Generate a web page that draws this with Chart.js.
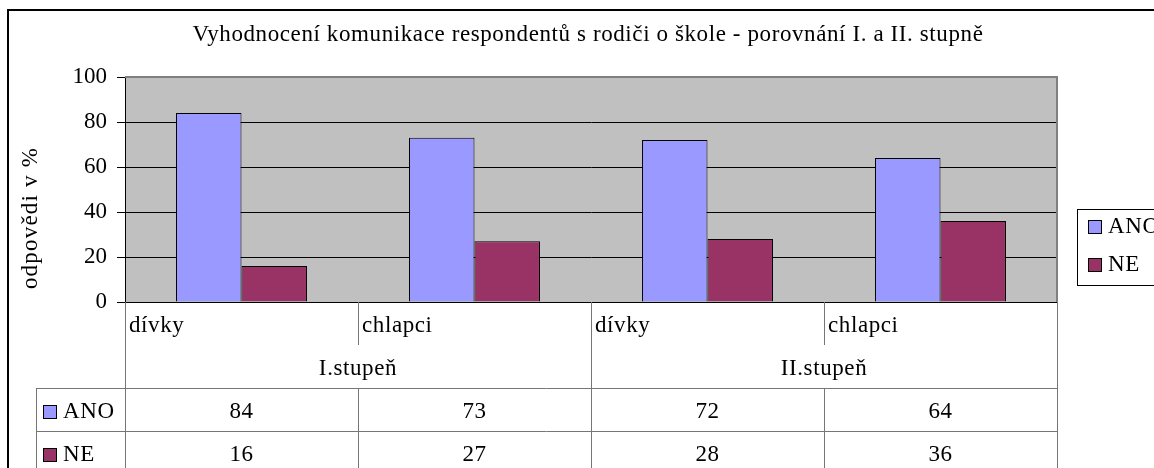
<!DOCTYPE html>
<html>
<head>
<meta charset="utf-8">
<script src="https://cdn.jsdelivr.net/npm/chart.js@4"></script>
<style>
  html, body { margin: 0; padding: 0; background: #fff; }
  #wrap { width: 1154px; height: 468px; position: relative; }
</style>
</head>
<body>
<div id="wrap"><canvas id="chart"></canvas></div>
<script>
const categories = ["dívky", "chlapci", "dívky", "chlapci"];
const groups = ["I.stupeň", "II.stupeň"];
const seriesNames = ["ANO", "NE"];
const anoValues = [84, 73, 72, 64];
const neValues = [16, 27, 28, 36];
const yTicks = [0, 20, 40, 60, 80, 100];
const titleText = "Vyhodnocení komunikace respondentů s rodiči o škole - porovnání I. a II. stupně";
const yTitle = "odpovědi v %";

const seriesColors = ["#9999FF", "#993366"];
const serif = "Liberation Serif";
const lineGray = "#767676";

// everything Excel draws outside the plot: title, category rows, data table, legend
const extras = {
  id: "extras",
  beforeDraw(chart) {
    const { ctx, chartArea: a } = chart;
    ctx.save();
    ctx.fillStyle = "#C0C0C0";
    ctx.fillRect(a.left, a.top, a.right - a.left, a.bottom - a.top);
    ctx.restore();
  },
  afterDraw(chart) {
    const { ctx, chartArea: a } = chart;
    const w = (a.right - a.left) / categories.length;
    const values = [anoValues, neValues];
    const rowTop = [388, 431];
    const rowH = 43;
    ctx.save();

    // plot border
    ctx.strokeStyle = "#808080";
    ctx.lineWidth = 2;
    ctx.beginPath();
    ctx.moveTo(a.left, a.top);
    ctx.lineTo(a.right, a.top);
    ctx.lineTo(a.right, a.bottom);
    ctx.stroke();

    // title
    ctx.fillStyle = "#000";
    ctx.font = "23px '" + serif + "'";
    ctx.letterSpacing = "0.6px";
    ctx.textAlign = "center";
    ctx.textBaseline = "alphabetic";
    ctx.fillText(titleText, (a.left + a.right) / 2 - 3, 41);

    // y axis title
    ctx.save();
    ctx.letterSpacing = "1.2px";
    ctx.translate(37, 218);
    ctx.rotate(-Math.PI / 2);
    ctx.fillText(yTitle, 0, 0);
    ctx.restore();

    // category labels + dividers
    ctx.strokeStyle = lineGray;
    ctx.lineWidth = 1;
    ctx.textAlign = "left";
    categories.forEach((c, i) => {
      const left = a.left + i * w;
      ctx.fillText(c, left + 4, 332);
      const x = Math.round(left) + 0.5;
      ctx.beginPath();
      ctx.moveTo(x, a.bottom);
      ctx.lineTo(x, i % 2 === 0 ? 470 : 345);
      ctx.stroke();
    });
    ctx.beginPath();
    ctx.moveTo(Math.round(a.right) + 0.5, a.bottom);
    ctx.lineTo(Math.round(a.right) + 0.5, 470);
    ctx.stroke();

    ctx.textAlign = "center";
    groups.forEach((g, j) => {
      ctx.fillText(g, a.left + (2 * j + 1) * w, 375);
    });

    // data table
    rowTop.forEach((y, r) => {
      ctx.strokeStyle = lineGray;
      ctx.beginPath();
      ctx.moveTo(36, y + 0.5);
      ctx.lineTo(a.right, y + 0.5);
      ctx.stroke();
      categories.forEach((c, i) => {
        const x = Math.round(a.left + i * w) + 0.5;
        ctx.beginPath();
        ctx.moveTo(x, y);
        ctx.lineTo(x, y + rowH);
        ctx.stroke();
        ctx.fillStyle = "#000";
        ctx.textAlign = "center";
        ctx.fillText(String(values[r][i]), a.left + (i + 0.5) * w, y + 30);
      });
      ctx.fillStyle = seriesColors[r];
      ctx.fillRect(43, y + 17, 13, 13);
      ctx.strokeStyle = "#000";
      ctx.strokeRect(43.5, y + 17.5, 13, 13);
      ctx.fillStyle = "#000";
      ctx.textAlign = "left";
      ctx.fillText(seriesNames[r], 63, y + 30);
    });
    ctx.strokeStyle = lineGray;
    ctx.beginPath();
    ctx.moveTo(36.5, rowTop[0]);
    ctx.lineTo(36.5, 470);
    ctx.stroke();

    // legend
    ctx.strokeStyle = "#000";
    ctx.strokeRect(1077.5, 209.5, 100, 76);
    seriesNames.forEach((s, r) => {
      const base = r === 0 ? 233 : 271;
      ctx.fillStyle = seriesColors[r];
      ctx.fillRect(1088, base - 13, 13, 13);
      ctx.strokeStyle = "#000";
      ctx.strokeRect(1088.5, base - 12.5, 13, 13);
      ctx.fillStyle = "#000";
      ctx.textAlign = "left";
      ctx.fillText(s, 1108, base);
    });

    // outer frame
    ctx.lineWidth = 2;
    ctx.strokeRect(8, 10, 1160, 470);
    ctx.restore();
  }
};

new Chart(document.getElementById("chart"), {
  type: "bar",
  data: {
    labels: categories,
    datasets: [
      {
        label: seriesNames[0],
        data: anoValues,
        backgroundColor: seriesColors[0],
        borderColor: "#000",
        borderWidth: 1,
      },
      {
        label: seriesNames[1],
        data: neValues,
        backgroundColor: seriesColors[1],
        borderColor: "#000",
        borderWidth: 1,
      },
    ],
  },
  options: {
    responsive: true,
    maintainAspectRatio: false,
    animation: false,
    categoryPercentage: 0.562,
    barPercentage: 1,
    layout: { padding: { left: 0, top: 77, right: 97, bottom: 166 } },
    plugins: {
      legend: { display: false },
      title: { display: false },
      tooltip: { enabled: false },
    },
    scales: {
      x: { display: false, offset: true },
      y: {
        min: 0,
        max: 100,
        afterFit(scale) {
          scale.width = 125;
        },
        afterBuildTicks(scale) {
          scale.ticks = yTicks.map((v) => ({ value: v }));
        },
        grid: { color: "#000", tickLength: 8 },
        border: { color: "#000" },
        ticks: { color: "#000", padding: 10, font: { family: serif, size: 23 } },
      },
    },
  },
  plugins: [extras],
});
</script>
</body>
</html>
